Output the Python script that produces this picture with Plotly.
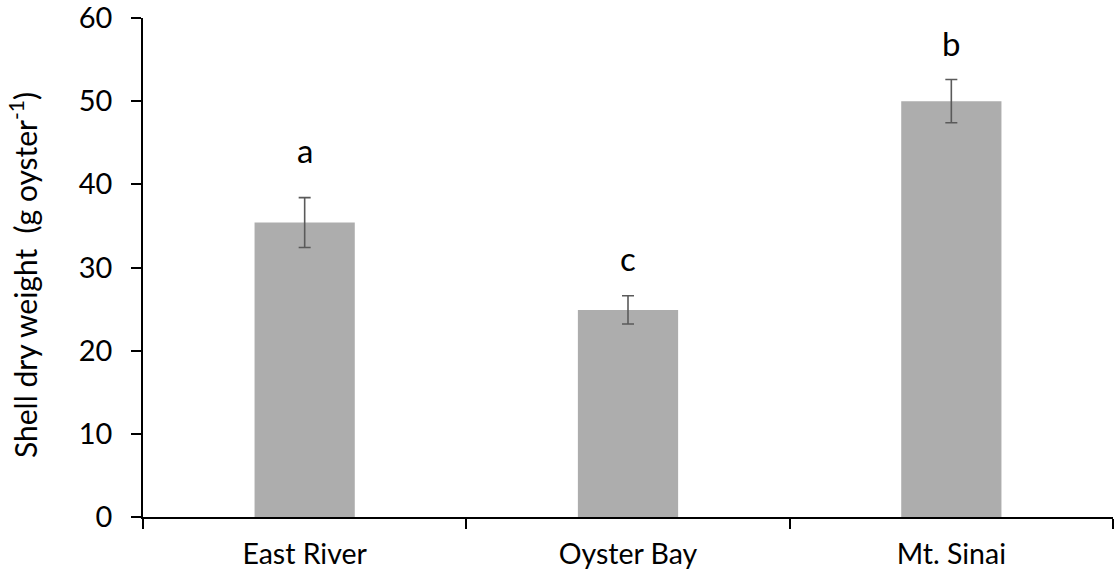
import plotly.graph_objects as go

# Shell dry weight per oyster by site
sites = ["East River", "Oyster Bay", "Mt. Sinai"]
weight = [35.4, 24.9, 50.0]
weight_se = [3.0, 1.7, 2.6]
group_letters = ["a", "c", "b"]
letter_y = [44.1, 31.1, 57.0]
y_ticks = [0, 10, 20, 30, 40, 50, 60]
y_title = "Shell dry weight  (g oyster<sup>-1</sup>)"

FONT = "Lato"
W, H = 1114, 574
ML, MR, MT, MB = 143, 1, 18, 57
plot_w = W - ML - MR
plot_h = H - MT - MB

fig = go.Figure()
fig.add_trace(go.Bar(
    x=sites,
    y=weight,
    marker=dict(color="#ADADAD", line=dict(width=0)),
    error_y=dict(type="data", array=weight_se, visible=True,
                 color="#5A5A5A", thickness=1.6, width=6),
    width=0.31,
))

# significance letters above each bar
for s, lab, ly in zip(sites, group_letters, letter_y):
    fig.add_annotation(x=s, y=ly, text=lab, showarrow=False,
                       font=dict(family=FONT, size=33, color="black"),
                       yanchor="middle", xanchor="center")

# vertical axis title, placed by pixel offset from the plot area
fig.add_annotation(
    xref="paper", yref="paper",
    x=(23 - ML) / plot_w, y=(H - MB - 275) / plot_h,
    text=y_title, textangle=-90, showarrow=False,
    xanchor="center", yanchor="middle",
    font=dict(family=FONT, size=30, color="black"),
)

fig.update_layout(
    width=W, height=H,
    margin=dict(l=ML, r=MR, t=MT, b=MB, autoexpand=False),
    plot_bgcolor="white", paper_bgcolor="white",
    showlegend=False,
    font=dict(family=FONT, color="black"),
)
fig.update_xaxes(
    showline=True, linecolor="black", linewidth=1.5,
    ticks="outside", tickson="boundaries", ticklen=10, tickwidth=1.5,
    tickcolor="black",
    tickfont=dict(family=FONT, size=28.5, color="black"),
    ticklabelstandoff=11,
    showgrid=False, zeroline=False, automargin=False,
)
fig.update_yaxes(
    range=[0, 60], tickmode="array", tickvals=y_ticks,
    ticklabeloverflow="allow",
    showline=True, linecolor="black", linewidth=1.5,
    ticks="outside", ticklen=10, tickwidth=1.5, tickcolor="black",
    tickfont=dict(family=FONT, size=29, color="black"),
    ticklabelstandoff=13,
    showgrid=False, zeroline=False, automargin=False,
)

fig.write_html("out.html")
